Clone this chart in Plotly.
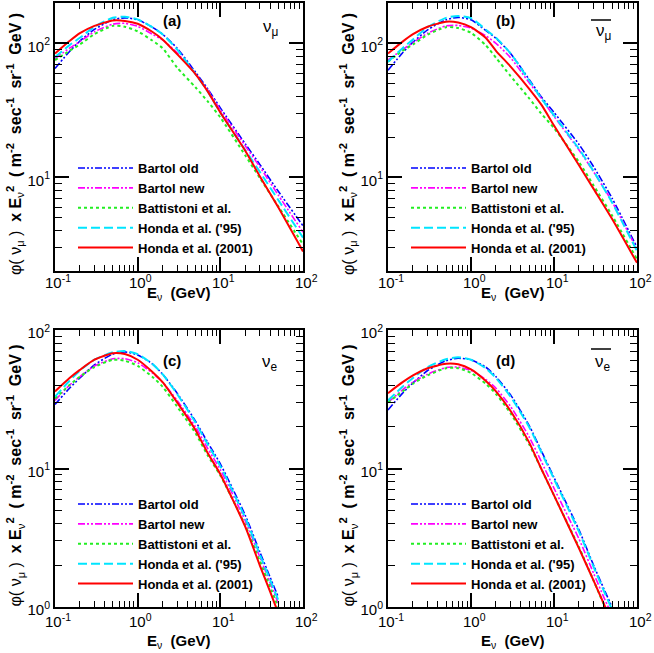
import math
import plotly.graph_objects as go

W, H = 654, 653

# ---------------- data ----------------
E_hi = [0.1, 0.15, 0.2, 0.3, 0.5, 0.7, 1, 1.5, 2, 3, 5, 7, 10, 20, 30, 50, 100]
E_lo = [0.1, 0.15, 0.2, 0.3, 0.5, 0.7, 1, 1.5, 2, 3, 5, 7, 10, 20, 30, 40, 50]

series_names = ["Bartol old", "Bartol new", "Battistoni et al.", "Honda et al. ('95)", "Honda et al. (2001)"]

# (a) nu_mu
a_bartol_old = [65, 87, 104, 127, 150, 155, 150, 132, 117, 92, 61, 46, 33, 17.8, 12.5, 7.9, 4.35]
a_bartol_new = [77, 92, 103, 122, 139, 141, 134, 117, 106, 85, 59, 45, 32, 17.2, 12, 7.4, 3.9]
a_battistoni = [75, 88, 98, 117, 135, 133, 123, 105, 92, 66, 47, 37, 28, 14.6, 9.9, 6.1, 3.16]
a_honda95 = [79, 97, 110, 133, 155, 158, 151, 132, 117, 90, 59, 44, 30.5, 16, 11, 6.8, 3.55]
a_honda01 = [84, 104, 119, 135, 148, 147, 140, 122, 107, 83, 59, 44, 30.5, 15.8, 10.2, 6.0, 2.8]

# (b) anti nu_mu
b_bartol_old = [63, 85, 102, 126, 150, 156, 150, 125, 109, 84, 54, 40, 30.5, 17.6, 12, 7.0, 3.0]
b_bartol_new = [75, 90, 101, 119, 135, 136, 130, 114, 100, 78, 51, 39, 28.5, 16, 11, 6.6, 2.9]
b_battistoni = [73, 88, 98, 116, 132, 130, 120, 97, 78, 57, 39, 30, 23.3, 13, 8.7, 5.2, 2.45]
b_honda95 = [73, 92, 107, 132, 155, 160, 154, 127, 110, 84, 53, 39, 29, 16.3, 11.1, 6.5, 2.82]
b_honda01 = [84, 103, 117, 133, 145, 143, 132, 110, 88, 67, 46, 35, 24.4, 12.3, 8.2, 4.9, 2.3]

# (c) nu_e
c_bartol_old = [29, 38, 45, 56, 67, 69.5, 66, 57, 48, 35, 22, 15.5, 10.8, 4.6, 2.5, 1.64, 1.19]
c_bartol_new = [31, 40, 46, 55, 62, 62, 58, 49, 42, 31, 20, 14, 9.8, 4.2, 2.3, 1.5, 1.07]
c_battistoni = [32, 40, 46, 54, 61, 60, 55, 46, 39, 28, 18, 12.5, 8.9, 3.9, 2.15, 1.4, 1.0]
c_honda95 = [33, 43, 51, 61, 69, 70.5, 67, 57, 48, 34.5, 21.5, 15, 10.4, 4.4, 2.4, 1.57, 1.13]
c_honda01 = [36, 45, 51.5, 61, 68, 67, 61, 50, 42, 30, 19, 13, 9.1, 3.8, 2.0, 1.29, 0.91]

# (d) anti nu_e
d_bartol_old = [26.5, 35, 41.5, 51, 60, 62.5, 61, 54, 46, 34, 20.5, 13.5, 8.6, 3.6, 2.0, 1.35, 1.0]
d_bartol_new = [30, 37, 42, 48, 53.5, 54, 51, 44, 38, 28, 17, 11.3, 7.2, 3.1, 1.75, 1.17, 0.87]
d_battistoni = [30, 36, 41, 47, 53, 53, 49, 41, 34.5, 25, 15, 10, 6.4, 2.7, 1.55, 1.04, 0.78]
d_honda95 = [31, 39, 45, 54, 61.5, 63.5, 61, 53, 45, 33, 20, 13.2, 8.4, 3.5, 1.95, 1.3, 0.96]
d_honda01 = [35, 42, 47, 53, 57, 56.5, 52, 43, 36, 26, 15.5, 10, 6.4, 2.65, 1.55, 1.05, 0.78]

x_tickvals = [0.1, 1, 10, 100]
x_ticktext = ["10<sup>-1</sup>", "10<sup>0</sup>", "10<sup>1</sup>", "10<sup>2</sup>"]
y_tickvals = [1, 10, 100]
y_ticktext = ["10<sup>0</sup>", "10<sup>1</sup>", "10<sup>2</sup>"]

panel_labels = ["(a)", "(b)", "(c)", "(d)"]
flavour_labels = ["ν<sub>μ</sub>", "ν<sub>μ</sub>", "ν<sub>e</sub>", "ν<sub>e</sub>"]

# ---------------- styles ----------------
styles = [
    dict(color="#0000ff", dash="7px,2px,2px,2px,2px,2px", width=1.6),
    dict(color="#ff00ff", dash="7px,2px,2px,2px,2px,2px", width=1.6),
    dict(color="#22ee22", dash="3px,3px", width=2),
    dict(color="#00e5ff", dash="9px,4px", width=2),
    dict(color="#ff0000", dash="solid", width=2),
]

FONT = "Liberation Sans, Arial, Helvetica, sans-serif"


def px(x):
    return x / W


def py(y):
    return 1 - y / H


panels = [
    dict(E=E_hi, data=[a_bartol_old, a_bartol_new, a_battistoni, a_honda95, a_honda01],
         xdom=(55, 303), ydom=(3, 271), yrange=(2, 200), leg_top=153, xt=293, lab=282,
         fy=25, oy=17),
    dict(E=E_hi, data=[b_bartol_old, b_bartol_new, b_battistoni, b_honda95, b_honda01],
         xdom=(388, 637), ydom=(3, 271), yrange=(2, 200), leg_top=153, xt=293, lab=282,
         fy=29, oy=17),
    dict(E=E_lo, data=[c_bartol_old, c_bartol_new, c_battistoni, c_honda95, c_honda01],
         xdom=(55, 303), ydom=(330, 607), yrange=(1, 100), leg_top=489, xt=641, lab=620,
         fy=33, oy=19),
    dict(E=E_lo, data=[d_bartol_old, d_bartol_new, d_battistoni, d_honda95, d_honda01],
         xdom=(388, 637), ydom=(330, 607), yrange=(1, 100), leg_top=489, xt=641, lab=620,
         fy=33, oy=19),
]

fig = go.Figure()
layout = dict(
    width=W, height=H,
    margin=dict(l=0, r=0, t=0, b=0),
    paper_bgcolor="white", plot_bgcolor="white",
    font=dict(family=FONT, color="black", size=14),
    annotations=[], shapes=[],
)

x_minor = [v * 10 ** k for k in (-1, 0, 1) for v in range(2, 10)]
y_minor = [v * 10 ** k for k in (0, 1, 2) for v in range(1, 10)]

for i, p in enumerate(panels):
    n = "" if i == 0 else str(i + 1)
    xa, ya = "x" + n, "y" + n
    leg = "legend" + n
    for j, (vals, st) in enumerate(zip(p["data"], styles)):
        fig.add_trace(go.Scatter(
            x=p["E"], y=vals, mode="lines", name="<b>" + series_names[j] + "</b>",
            line=dict(color=st["color"], dash=st["dash"], width=st["width"], shape="spline", smoothing=0.6),
            xaxis=xa, yaxis=ya, legend=leg, showlegend=True,
        ))
    x0, x1 = p["xdom"]
    y0, y1 = p["ydom"]
    common = dict(
        type="log", showgrid=False, zeroline=False,
        showline=True, linewidth=2, linecolor="black", mirror="ticks",
        ticks="inside", ticklen=14, tickwidth=1.5, tickcolor="black",
        tickfont=dict(size=15, family=FONT),
        automargin=False,
    )
    layout["xaxis" + n] = dict(
        common, domain=[px(x0), px(x1)], range=[-1, 2], anchor=ya,
        tickmode="array", tickvals=x_tickvals, ticktext=x_ticktext, showticklabels=False,
        minor=dict(tickmode="array", tickvals=x_minor, ticks="inside", ticklen=6,
                   tickwidth=1.2, tickcolor="black", showgrid=False),
    )
    lo, hi = p["yrange"]
    layout["yaxis" + n] = dict(
        common, domain=[py(y1), py(y0)], range=[math.log10(lo), math.log10(hi)], anchor=xa,
        tickmode="array", tickvals=y_tickvals, ticktext=y_ticktext, ticklabelshift=3,
        minor=dict(tickmode="array", tickvals=[v for v in y_minor if v not in y_tickvals],
                   ticks="inside", ticklen=7, tickwidth=1.2, tickcolor="black", showgrid=False),
    )
    # x tick labels (placed under the log-axis tick positions)
    for tv, tt in zip(x_tickvals, x_ticktext):
        layout["annotations"].append(dict(
            x=math.log10(tv), xref=xa, y=py(p["lab"]), yref="paper", showarrow=False,
            text=tt, font=dict(size=15, family=FONT), xanchor="center", yanchor="middle",
            xshift=3,
        ))
    # legend
    layout[leg] = dict(
        x=px(x0 + 18), y=py(p["leg_top"]), xanchor="left", yanchor="top",
        bgcolor="rgba(0,0,0,0)", borderwidth=0,
        font=dict(size=13, family=FONT, color="black"),
        tracegroupgap=0, itemwidth=55,
    )
    cx = (x0 + x1) / 2
    # x title
    layout["annotations"].append(dict(
        x=px(cx), y=py(p["xt"]), xref="paper", yref="paper", showarrow=False,
        text="<b>E</b><sub>ν</sub>  <b>(GeV)</b>", font=dict(size=15, family=FONT),
        xanchor="center", yanchor="middle",
    ))
    # y title
    layout["annotations"].append(dict(
        x=px(x0 - 40), y=py((y0 + y1) / 2 + 7), xref="paper", yref="paper", showarrow=False,
        textangle=-90,
        text="φ( ν<sub>μ</sub> )  <b>x E</b><sub>ν</sub><sup><b>2</b></sup>  <b>( m</b><sup><b>-2</b></sup>  <b>sec</b><sup><b>-1</b></sup>  <b>sr</b><sup><b>-1</b></sup>  <b>GeV )</b>",
        font=dict(size=16, family=FONT), xanchor="center", yanchor="middle",
    ))
    # panel label
    layout["annotations"].append(dict(
        x=px(x0 + 117), y=py(y0 + 17 if i < 2 else y0 + 30), xref="paper", yref="paper", showarrow=False,
        text="<b>" + panel_labels[i] + "</b>", font=dict(size=15, family=FONT),
        xanchor="center", yanchor="middle",
    ))
    # flavour label
    layout["annotations"].append(dict(
        x=px(x0 + 215), y=py(y0 + p["fy"]), xref="paper", yref="paper", showarrow=False,
        text=flavour_labels[i], font=dict(size=17, family=FONT),
        xanchor="center", yanchor="middle",
    ))
    if i in (1, 3):
        layout["shapes"].append(dict(
            type="line", xref="paper", yref="paper",
            x0=px(x0 + 203), x1=px(x0 + 223), y0=py(y0 + p["oy"]), y1=py(y0 + p["oy"]),
            line=dict(color="black", width=1.5),
        ))

fig.update_layout(**layout)
fig.write_html(
    "out.html",
    config={"displayModeBar": False},
    post_script="document.body.style.margin='0';document.body.style.overflow='hidden';",
)
